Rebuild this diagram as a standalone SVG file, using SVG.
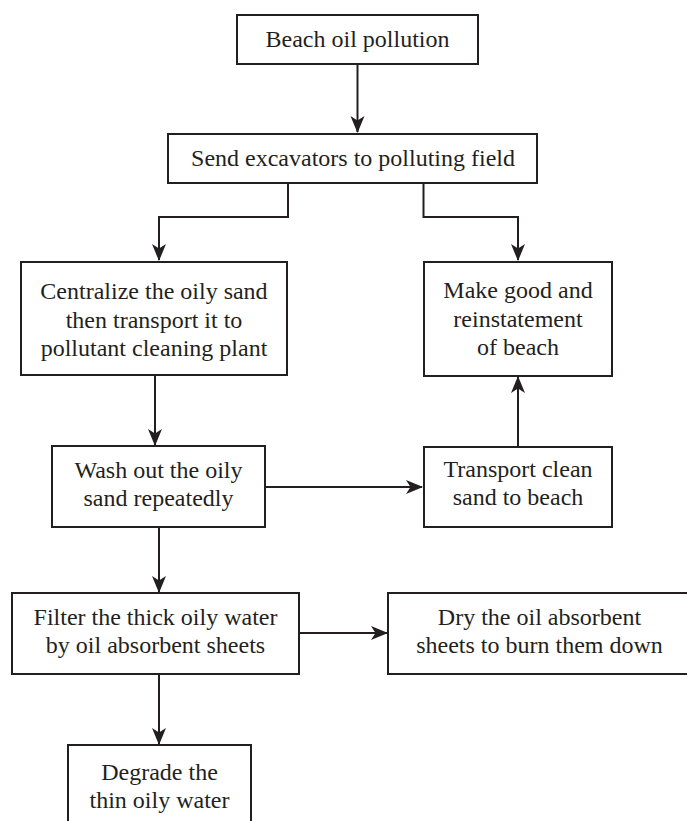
<svg xmlns="http://www.w3.org/2000/svg" width="687" height="821" viewBox="0 0 687 821">
<style>
.box{fill:#fff;stroke:#231f20;stroke-width:2}
.t{font-family:"Liberation Serif","Times New Roman",serif;font-size:24px;fill:#231f20;text-anchor:middle}
.c{fill:none;stroke:#231f20;stroke-width:2}
</style>
<defs>
<marker id="ah" markerUnits="userSpaceOnUse" markerWidth="18" markerHeight="16" refX="16" refY="7" orient="auto">
<path d="M0,0 L17,7 L0,14 L4.5,7 z" fill="#231f20"/>
</marker>
</defs>
<rect width="687" height="821" fill="#fff"/>
<g id="connectors">
<path class="c" d="M357.5,64 V132" marker-end="url(#ah)"/>
<path class="c" d="M288,183 V217 H159 V260" marker-end="url(#ah)"/>
<path class="c" d="M423.5,183 V217 H518 V260" marker-end="url(#ah)"/>
<path class="c" d="M155,375 V445" marker-end="url(#ah)"/>
<path class="c" d="M265,487 H422" marker-end="url(#ah)"/>
<path class="c" d="M518,447 V377" marker-end="url(#ah)"/>
<path class="c" d="M159,527 V592" marker-end="url(#ah)"/>
<path class="c" d="M299,633 H387" marker-end="url(#ah)"/>
<path class="c" d="M159,674 V744" marker-end="url(#ah)"/>
</g>
<g id="n1">
<rect class="box" x="237" y="15" width="241" height="49"/>
<text class="t" x="357.5" y="47">Beach oil pollution</text>
</g>
<g id="n2">
<rect class="box" x="168" y="134" width="369" height="49"/>
<text class="t" x="353" y="166">Send excavators to polluting field</text>
</g>
<g id="n3">
<rect class="box" x="21" y="262" width="266" height="113"/>
<text class="t" x="154" y="299">Centralize the oily sand</text>
<text class="t" x="154" y="327.5">then transport it to</text>
<text class="t" x="154" y="356">pollutant cleaning plant</text>
</g>
<g id="n4">
<rect class="box" x="424" y="262" width="188" height="114"/>
<text class="t" x="518" y="298">Make good and</text>
<text class="t" x="518" y="326.5">reinstatement</text>
<text class="t" x="518" y="355">of beach</text>
</g>
<g id="n5">
<rect class="box" x="52" y="446" width="213" height="81"/>
<text class="t" x="158.5" y="478">Wash out the oily</text>
<text class="t" x="158.5" y="506">sand repeatedly</text>
</g>
<g id="n6">
<rect class="box" x="424" y="447" width="188" height="80"/>
<text class="t" x="518" y="477">Transport clean</text>
<text class="t" x="518" y="505">sand to beach</text>
</g>
<g id="n7">
<rect class="box" x="12" y="593" width="287" height="81"/>
<text class="t" x="155.5" y="625">Filter the thick oily water</text>
<text class="t" x="155.5" y="653">by oil absorbent sheets</text>
</g>
<g id="n8">
<rect class="box" x="388" y="593" width="304" height="81"/>
<text class="t" x="539.5" y="625">Dry the oil absorbent</text>
<text class="t" x="539.5" y="653">sheets to burn them down</text>
</g>
<g id="n9">
<rect class="box" x="68" y="745" width="183" height="90"/>
<text class="t" x="159.5" y="780">Degrade the</text>
<text class="t" x="159.5" y="808">thin oily water</text>
</g>
</svg>
